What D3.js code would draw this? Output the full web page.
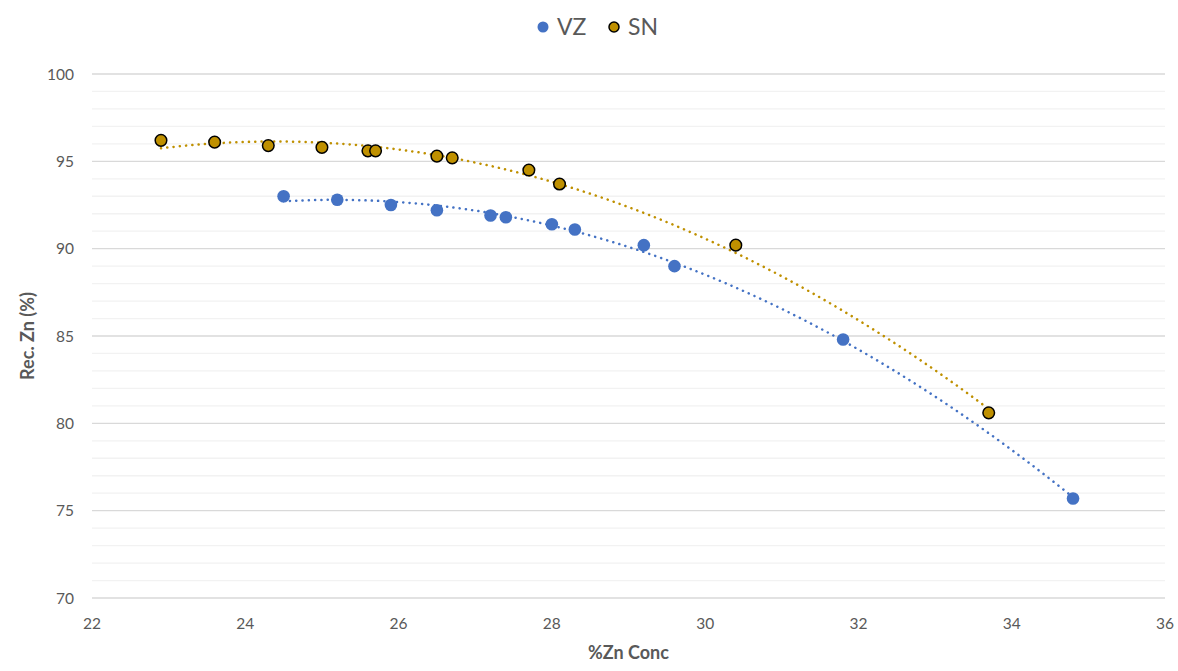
<!DOCTYPE html>
<html>
<head>
<meta charset="utf-8">
<script src="https://cdn.jsdelivr.net/npm/d3@7"></script>
<style>
  body { margin: 0; background: #fff; }
  text { font-family: Lato, "Open Sans", sans-serif; fill: #595959; }
</style>
</head>
<body>
<svg id="chart"></svg>
<script>
// data
var vzConc = [24.5, 25.2, 25.9, 26.5, 27.2, 27.4, 28.0, 28.3, 29.2, 29.6, 31.8, 34.8];
var vzRec  = [93.0, 92.8, 92.5, 92.2, 91.9, 91.8, 91.4, 91.1, 90.2, 89.0, 84.8, 75.7];
var snConc = [22.9, 23.6, 24.3, 25.0, 25.6, 25.7, 26.5, 26.7, 27.7, 28.1, 30.4, 33.7];
var snRec  = [96.2, 96.1, 95.9, 95.8, 95.6, 95.6, 95.3, 95.2, 94.5, 93.7, 90.2, 80.6];
var xTicks = [22, 24, 26, 28, 30, 32, 34, 36];
var yTicks = [70, 75, 80, 85, 90, 95, 100];

var width = 1178, height = 671;
var svg = d3.select("#chart").attr("width", width).attr("height", height);

var x = d3.scaleLinear().domain([22, 36]).range([92, 1165]);
var y = d3.scaleLinear().domain([70, 100]).range([598, 74]);

// minor gridlines
svg.append("g").selectAll("line")
    .data(d3.range(70, 101, 1).filter(function (v) { return v % 5 !== 0; }))
    .enter().append("line")
    .attr("x1", x(22)).attr("x2", x(36))
    .attr("y1", function (d) { return y(d); }).attr("y2", function (d) { return y(d); })
    .style("stroke", "#F2F2F2").style("stroke-width", 1.3);

// major gridlines
svg.append("g").selectAll("line")
    .data(yTicks)
    .enter().append("line")
    .attr("x1", x(22)).attr("x2", x(36))
    .attr("y1", function (d) { return y(d); }).attr("y2", function (d) { return y(d); })
    .style("stroke", "#D9D9D9").style("stroke-width", 1.3);

// tick labels
svg.append("g").selectAll("text")
    .data(yTicks)
    .enter().append("text")
    .attr("x", 74).attr("y", function (d) { return y(d) + 5.5; })
    .attr("text-anchor", "end")
    .style("font-size", "15.5px")
    .text(function (d) { return d; });

svg.append("g").selectAll("text")
    .data(xTicks)
    .enter().append("text")
    .attr("x", function (d) { return x(d); }).attr("y", 629)
    .attr("text-anchor", "middle")
    .style("font-size", "15.5px")
    .text(function (d) { return d; });

// axis titles
svg.append("text")
    .attr("x", x(29)).attr("y", 659)
    .attr("text-anchor", "middle")
    .style("font-size", "18px").style("font-weight", "bold")
    .text("%Zn Conc");

svg.append("text")
    .attr("transform", "translate(34," + y(85) + ") rotate(-90)")
    .attr("text-anchor", "middle")
    .style("font-size", "18px").style("font-weight", "bold")
    .text("Rec. Zn (%)");

// second order polynomial least squares fit (like Excel trendline)
function polyFit(xs, ys) {
    var n = xs.length, s = [0, 0, 0, 0, 0], t = [0, 0, 0];
    for (var i = 0; i < n; i++) {
        for (var k = 0; k < 5; k++) s[k] += Math.pow(xs[i], k);
        for (var j = 0; j < 3; j++) t[j] += ys[i] * Math.pow(xs[i], j);
    }
    var m = [[s[0], s[1], s[2], t[0]], [s[1], s[2], s[3], t[1]], [s[2], s[3], s[4], t[2]]];
    for (var c = 0; c < 3; c++) {
        for (var r = c + 1; r < 3; r++) {
            var f = m[r][c] / m[c][c];
            for (var q = c; q < 4; q++) m[r][q] -= f * m[c][q];
        }
    }
    var b = [0, 0, 0];
    for (var r2 = 2; r2 >= 0; r2--) {
        var sum = m[r2][3];
        for (var q2 = r2 + 1; q2 < 3; q2++) sum -= m[r2][q2] * b[q2];
        b[r2] = sum / m[r2][r2];
    }
    return b;
}

var line = d3.line()
    .x(function (d) { return x(d[0]); })
    .y(function (d) { return y(d[1]); });

function drawTrend(xs, ys, colour) {
    var b = polyFit(xs, ys);
    var lo = d3.min(xs), hi = d3.max(xs);
    var pts = [];
    for (var i = 0; i <= 100; i++) {
        var xv = lo + (hi - lo) * i / 100;
        pts.push([xv, b[0] + b[1] * xv + b[2] * xv * xv]);
    }
    svg.append("path")
        .attr("d", line(pts))
        .style("fill", "none")
        .style("stroke", colour)
        .style("stroke-width", 2.5)
        .style("stroke-linecap", "round")
        .style("stroke-dasharray", "0.1 6.2");
}

drawTrend(vzConc, vzRec, "#4472C4");
drawTrend(snConc, snRec, "#BF9000");

// markers
svg.append("g").selectAll("circle")
    .data(d3.zip(vzConc, vzRec))
    .enter().append("circle")
    .attr("cx", function (d) { return x(d[0]); })
    .attr("cy", function (d) { return y(d[1]); })
    .attr("r", 6.3)
    .style("fill", "#4472C4");

svg.append("g").selectAll("circle")
    .data(d3.zip(snConc, snRec))
    .enter().append("circle")
    .attr("cx", function (d) { return x(d[0]); })
    .attr("cy", function (d) { return y(d[1]); })
    .attr("r", 5.8)
    .style("fill", "#BF9000")
    .style("stroke", "#000").style("stroke-width", 1.5);

// legend
var legend = svg.append("g");
legend.append("circle").attr("cx", 543).attr("cy", 27).attr("r", 5.5).style("fill", "#4472C4");
legend.append("text").attr("x", 557).attr("y", 35).style("font-size", "23px").text("VZ");
legend.append("circle").attr("cx", 614).attr("cy", 27).attr("r", 5).style("fill", "#BF9000")
    .style("stroke", "#000").style("stroke-width", 1.5);
legend.append("text").attr("x", 628).attr("y", 35).style("font-size", "23px").text("SN");
</script>
</body>
</html>
